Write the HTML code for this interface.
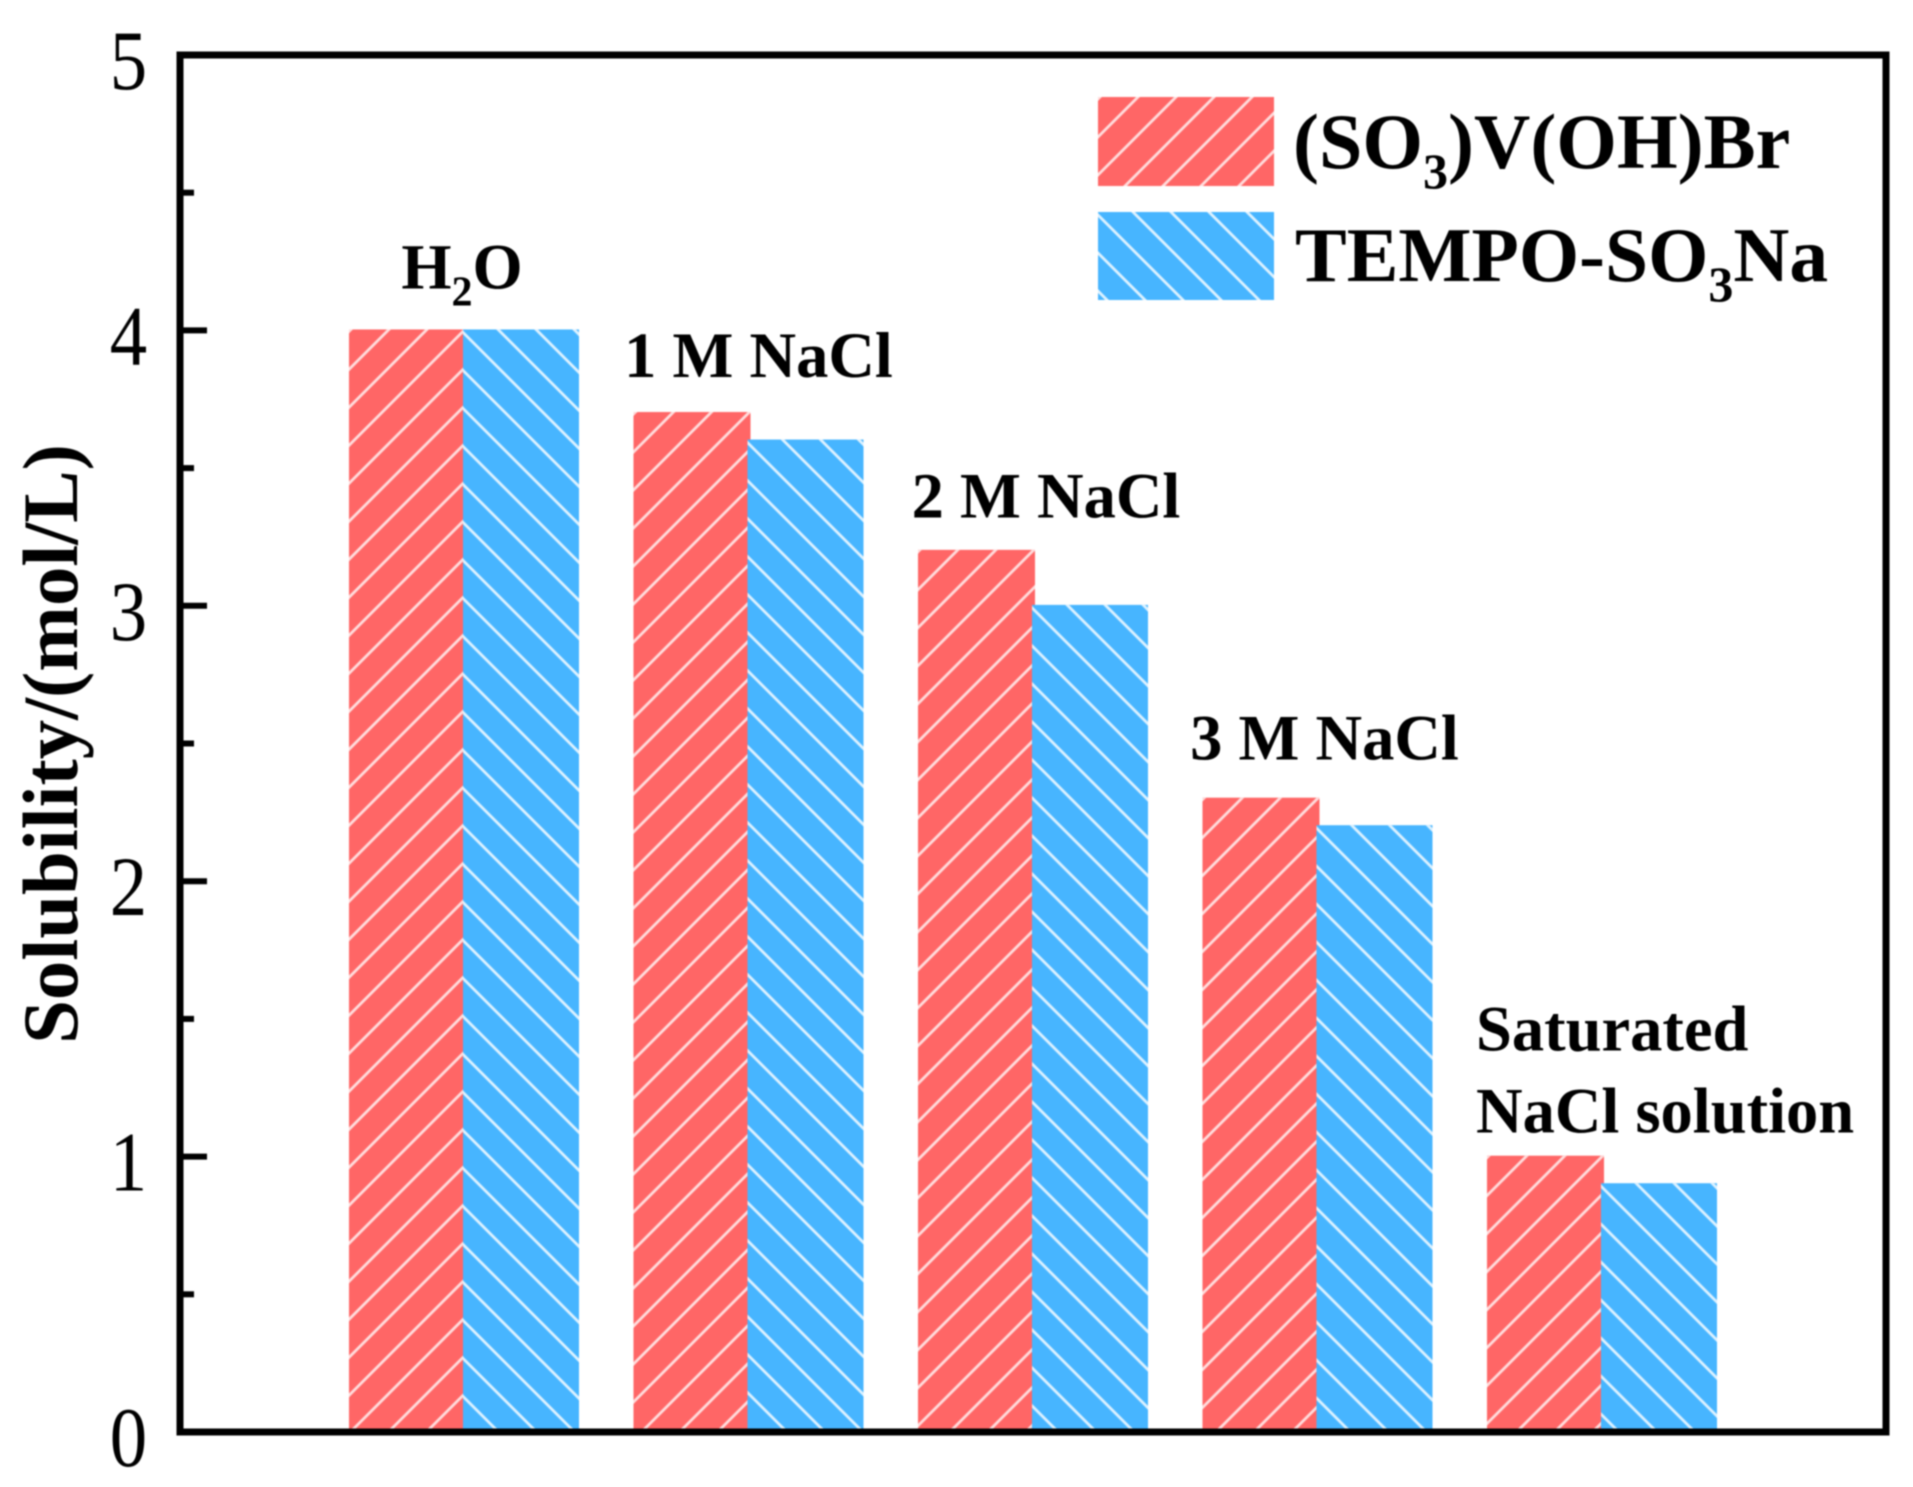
<!DOCTYPE html>
<html lang="en">
<head>
<meta charset="utf-8">
<title>Solubility chart</title>
<style>
html,body{margin:0;padding:0;background:#fff;width:1913px;height:1487px;overflow:hidden}
#chart{display:block;filter:blur(0.9px)}
text{font-family:"Liberation Serif",serif;fill:#000}
.b{font-weight:bold}
</style>
</head>
<body>
<svg id="chart" xmlns="http://www.w3.org/2000/svg" width="1913" height="1487" viewBox="0 0 1913 1487">
<defs>
<pattern id="hatch-red" patternUnits="userSpaceOnUse" x="0" y="0" width="38" height="38">
<path d="M-2 4L4 -2M-2 42L42 -2" stroke="#ffdcdc" stroke-width="2.8" fill="none"/>
</pattern>
<pattern id="hatch-blue" patternUnits="userSpaceOnUse" x="0" y="0" width="38" height="38">
<path d="M-2 1L40 43M33 -2L40 5" stroke="#dcf1ff" stroke-width="2.8" fill="none"/>
</pattern>
</defs>
<rect width="1913" height="1487" fill="#fff"/>
<g id="bars"></g>
<g id="labels"></g>
<g id="axes"></g>
<text class="b" font-size="78.8" text-anchor="middle" transform="translate(77,744) rotate(-90)">Solubility/(mol/L)</text>
<g>
<g>
<svg x="1098" y="97" width="176" height="89">
<rect width="176" height="89" fill="#ff6666"/><rect width="176" height="89" fill="url(#hatch-red)"/>
</svg>
<text class="b" x="1293" y="168" font-size="78">(SO<tspan font-size="50" dy="20">3</tspan><tspan dy="-20">)V(OH)Br</tspan></text>
</g>
<g>
<svg x="1098" y="212" width="176" height="88">
<rect width="176" height="88" fill="#47b5ff"/><rect width="176" height="88" fill="url(#hatch-blue)"/>
</svg>
<text class="b" x="1295" y="281" font-size="77.5">TEMPO-SO<tspan font-size="50" dy="20">3</tspan><tspan dy="-20">Na</tspan></text>
</g>
</g>
</svg>
<script>
const categories = ["H2O", "1 M NaCl", "2 M NaCl", "3 M NaCl", "Saturated NaCl solution"];
const vanadiumValues = [4.0, 3.7, 3.2, 2.3, 1.0];
const tempoValues = [4.0, 3.6, 3.0, 2.2, 0.9];
const majorTicks = [0, 1, 2, 3, 4, 5];
const minorTicks = [0.5, 1.5, 2.5, 3.5, 4.5];

const NS = 'http://www.w3.org/2000/svg';
const plot = { left: 181, right: 1886, top: 55, bottom: 1432 };
const yMax = 5;
function yScale(v) { return plot.bottom - (v / yMax) * (plot.bottom - plot.top); }
function xCenter(i) { return 463 + 284.5 * i; }

function make(tag, attrs, parent) {
  const el = document.createElementNS(NS, tag);
  for (const k in attrs) el.setAttribute(k, attrs[k]);
  parent.appendChild(el);
  return el;
}

function drawBar(parent, x, width, value, fill, pattern, name) {
  const top = yScale(value) - 1;
  const h = plot.bottom - top;
  const s = make('svg', { x: x, y: top, width: width, height: h }, parent);
  
  
  make('rect', { width: width, height: h, fill: fill }, s);
  make('rect', { width: width, height: h, fill: 'url(#' + pattern + ')' }, s);
}

const barsGroup = document.getElementById('bars');
categories.forEach(function (c, i) {
  const cx = xCenter(i);
  drawBar(barsGroup, cx - 114, 117, vanadiumValues[i], '#ff6666', 'hatch-red', 'bar-vanadium-' + i);
  drawBar(barsGroup, cx, 116, tempoValues[i], '#47b5ff', 'hatch-blue', 'bar-tempo-' + i);
});

const labelsGroup = document.getElementById('labels');
function addLabel(x, y, anchor, text, name) {
  const t = make('text', { x: x, y: y, 'text-anchor': anchor, 'font-size': 64.5, 'class': 'b' }, labelsGroup);
  
  
  t.textContent = text;
  return t;
}
// H2O
(function () {
  const t = addLabel(xCenter(0) - 1, yScale(vanadiumValues[0]) - 42, 'middle', 'H', 'label-water');
  const sub = make('tspan', { 'font-size': 42, dy: 17 }, t);
  sub.textContent = '2';
  const rest = make('tspan', { dy: -17 }, t);
  rest.textContent = 'O';
})();
addLabel(xCenter(1) + 11, yScale(vanadiumValues[1]) - 36, 'middle', categories[1], 'label-1m-nacl');
addLabel(xCenter(2) + 14, yScale(vanadiumValues[2]) - 33, 'middle', categories[2], 'label-2m-nacl');
addLabel(xCenter(3) + 8, yScale(vanadiumValues[3]) - 39, 'middle', categories[3], 'label-3m-nacl');
addLabel(xCenter(4) - 125, yScale(vanadiumValues[4]) - 106, 'start', 'Saturated', 'label-saturated');
addLabel(xCenter(4) - 125, yScale(vanadiumValues[4]) - 24, 'start', 'NaCl solution', 'label-nacl-solution');

const axesGroup = document.getElementById('axes');
const frame = make('rect', { x: plot.left - 1, y: plot.top, width: plot.right - plot.left + 1, height: plot.bottom - plot.top, fill: 'none', stroke: '#000', 'stroke-width': 7 }, axesGroup);


majorTicks.forEach(function (v) {
  const y = yScale(v);
  if (v > 0 && v < yMax) {
    const l = make('line', { x1: plot.left, x2: plot.left + 26, y1: y, y2: y, stroke: '#000', 'stroke-width': 6 }, axesGroup);
    
    
  }
  const t = make('text', { 'text-anchor': 'middle', 'font-size': 85, transform: 'translate(128.5,' + (y + 34) + ') scale(0.88,1)' }, axesGroup);
  
  
  t.textContent = String(v);
});
minorTicks.forEach(function (v) {
  const y = yScale(v);
  const l = make('line', { x1: plot.left, x2: plot.left + 13, y1: y, y2: y, stroke: '#000', 'stroke-width': 6 }, axesGroup);
  
  
});
</script>
</body>
</html>
